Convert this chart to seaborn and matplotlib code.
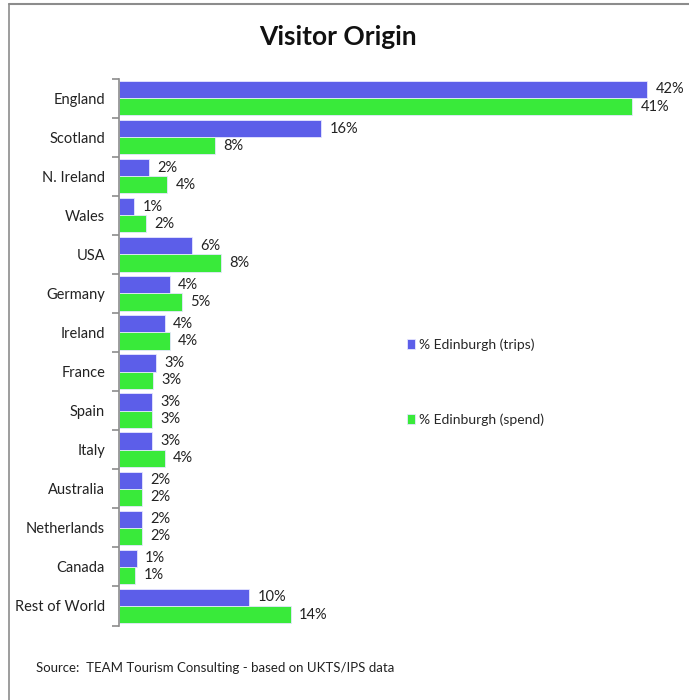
import numpy as np
import pandas as pd
import matplotlib.pyplot as plt
import seaborn as sns
from matplotlib.lines import Line2D

countries = ["England", "Scotland", "N. Ireland", "Wales", "USA", "Germany", "Ireland",
             "France", "Spain", "Italy", "Australia", "Netherlands", "Canada", "Rest of World"]
trips = [41.8, 16.0, 2.4, 1.2, 5.8, 4.0, 3.6, 2.9, 2.6, 2.6, 1.8, 1.8, 1.4, 10.3]
spend = [40.6, 7.6, 3.8, 2.1, 8.1, 5.0, 4.0, 2.7, 2.6, 3.6, 1.8, 1.8, 1.3, 13.6]
series = ["% Edinburgh (trips)", "% Edinburgh (spend)"]
colours = ["#5c5ee9", "#39ea3a"]

df = pd.DataFrame({
    "country": countries * 2,
    "value": trips + spend,
    "series": [series[0]] * len(countries) + [series[1]] * len(countries),
})

sns.set_style("white")
plt.rcParams["font.family"] = ["Lato", "DejaVu Sans"]

fig = plt.figure(figsize=(6.89, 7.0), dpi=100)
ax = fig.add_axes([119 / 689, 1 - 625.5 / 700, 541 / 689, 547 / 700])

sns.barplot(data=df, y="country", x="value", hue="series", orient="h",
            palette=colours, saturation=1, width=0.88, edgecolor="#e6e6ff", linewidth=0.6,
            ax=ax, legend=True)

for cont in ax.containers:
    ax.bar_label(cont, labels=[f"{v:.0f}%" for v in cont.datavalues],
                 padding=6, fontsize=10.5, color="#222222", clip_on=False)

ax.set_xlim(0, 42.8)
ax.set_ylim(13.5, -0.5)
ax.set_xlabel("")
ax.set_ylabel("")
ax.set_xticks([])
for s in ["top", "right", "bottom"]:
    ax.spines[s].set_visible(False)
ax.spines["left"].set_color("#8c8c8c")
ax.spines["left"].set_linewidth(1.2)
ax.tick_params(axis="y", which="major", length=0, pad=10, labelsize=10.5, labelcolor="#222222")
ax.set_yticks(np.arange(-0.5, len(countries), 1.0), minor=True)
ax.tick_params(axis="y", which="minor", length=5, color="#8c8c8c", width=1.2, left=True)

leg = ax.legend(loc="center left", bbox_to_anchor=(0.51, 0.445), frameon=False,
                handlelength=0.55, handleheight=0.7, handletextpad=0.3,
                labelspacing=4.5, fontsize=10)

fig.text(338 / 689, 1 - 37 / 700, "Visitor Origin", ha="center", va="center",
         fontsize=19, fontweight="bold", color="#111111")
fig.text(36 / 689, 1 - 668 / 700, "Source:  TEAM Tourism Consulting - based on UKTS/IPS data",
         ha="left", va="center", fontsize=9.5, color="#222222")

fig.add_artist(Line2D([9 / 689, 1], [1 - 4 / 700] * 2, transform=fig.transFigure,
                      color="#8c8c8c", linewidth=1.5))
fig.add_artist(Line2D([9 / 689] * 2, [0, 1 - 4 / 700], transform=fig.transFigure,
                      color="#8c8c8c", linewidth=1.2))

fig.savefig("out.png", dpi=100)
